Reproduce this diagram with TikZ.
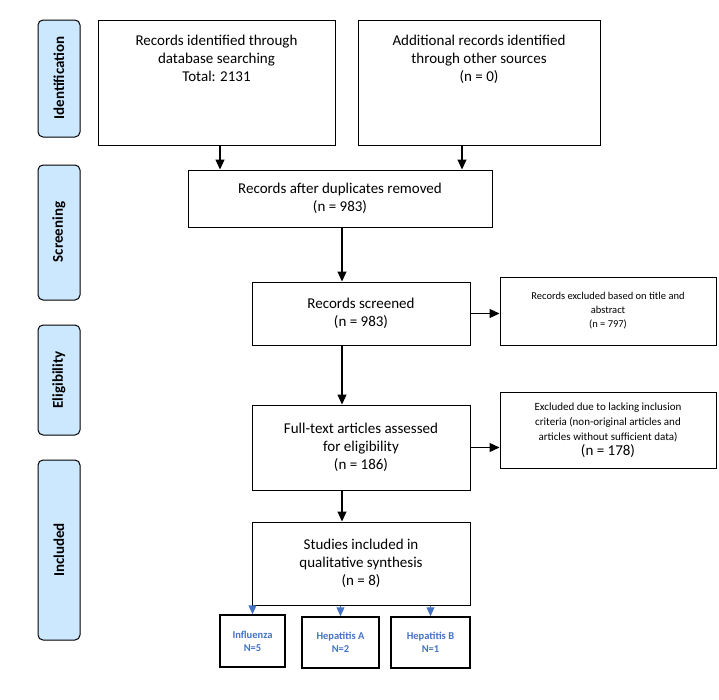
\documentclass[tikz,border=0pt]{standalone}
\usepackage{fontspec}
\setmainfont{Carlito}
\usetikzlibrary{arrows.meta}
\definecolor{stagefill}{RGB}{204,232,255}
\definecolor{leafblue}{RGB}{68,114,196}
\begin{document}
\begin{tikzpicture}[x=1pt,y=1pt,yscale=-1,
  box/.style={draw,line width=1pt,align=center,font=\fontsize{15}{18}\selectfont},
  stage/.style={draw,line width=1pt,fill=stagefill,rounded corners=5pt},
  stxt/.style={rotate=90,font=\fontsize{15}{18}\selectfont\bfseries},
  leaf/.style={draw,line width=1.5pt,align=center,text=leafblue,font=\fontsize{10.5}{13}\selectfont\bfseries},
  arr/.style={-{Triangle[length=10pt,width=9pt]},line width=1.2pt},
  barr/.style={-{Triangle[length=9pt,width=8pt]},line width=1pt,draw=leafblue,fill=leafblue}]
\useasboundingbox (0,0) rectangle (719,699);

% Stage labels
\draw[stage] (38,20) rectangle (80,137);
\node[stxt] (lid) at (59,78) {Identification};
\draw[stage] (38,165) rectangle (80,300);
\node[stxt] (lsc) at (59,232) {Screening};
\draw[stage] (38,325) rectangle (80,435);
\node[stxt] (lel) at (59,380) {Eligibility};
\draw[stage] (38,460) rectangle (80,640);
\node[stxt] (lin) at (59,550) {Included};

% Boxes
\node[box,minimum width=237,minimum height=125] (ident) at (216.5,82.5) {Records identified through\\database searching\\Total: 2131\\[30pt]};
\node[box,minimum width=242,minimum height=125] (other) at (479,82.5) {Additional records identified\\through other sources\\(n = 0)\\[30pt]};
\node[box,minimum width=304,minimum height=57] (dup) at (340,198.5) {Records after duplicates removed\\(n = 983)};
\node[box,minimum width=218,minimum height=63] (screen) at (361,313.5) {Records screened\\(n = 983)};
\node[box,minimum width=216,minimum height=68,font=\fontsize{10.5}{14}\selectfont] (excl) at (608,311) {Records excluded based on title and\\abstract\\(n = 797)};
\node[box,minimum width=216,minimum height=76,font=\fontsize{11}{15}\selectfont] (lack) at (608,430) {Excluded due to lacking inclusion\\criteria (non-original articles and\\articles without sufficient data)\\{\fontsize{15}{18}\selectfont(n = 178)}};
\node[box,minimum width=218,minimum height=85] (full) at (361,447.5) {Full-text articles assessed\\for eligibility\\(n = 186)};
\node[box,minimum width=218,minimum height=83] (incl) at (361,563.5) {Studies included in\\qualitative synthesis\\(n = 8)};
\node[leaf,minimum width=65,minimum height=52] (flu) at (252.5,641) {Influenza\\N=5};
\node[leaf,minimum width=77,minimum height=51] (hepa) at (340.5,642.5) {Hepatitis A\\N=2};
\node[leaf,minimum width=79,minimum height=51] (hepb) at (430.5,642.5) {Hepatitis B\\N=1};

% Connectors
\draw[arr] (ident.south -| 220,0) -- (dup.north -| 220,0);
\draw[arr] (other.south -| 462,0) -- (dup.north -| 462,0);
\draw[arr] (dup.south -| 342,0) -- (screen.north -| 342,0);
\draw[arr] (screen.east) -- (excl.west |- screen.east);
\draw[arr] (screen.south -| 342,0) -- (full.north -| 342,0);
\draw[arr] (full.east) -- (lack.west |- full.east);
\draw[arr] (full.south -| 342,0) -- (incl.north -| 342,0);
\draw[barr] (incl.south -| flu.north) -- (flu.north);
\draw[barr] (incl.south -| hepa.north) -- (hepa.north);
\draw[barr] (incl.south -| hepb.north) -- (hepb.north);
\end{tikzpicture}
\end{document}
